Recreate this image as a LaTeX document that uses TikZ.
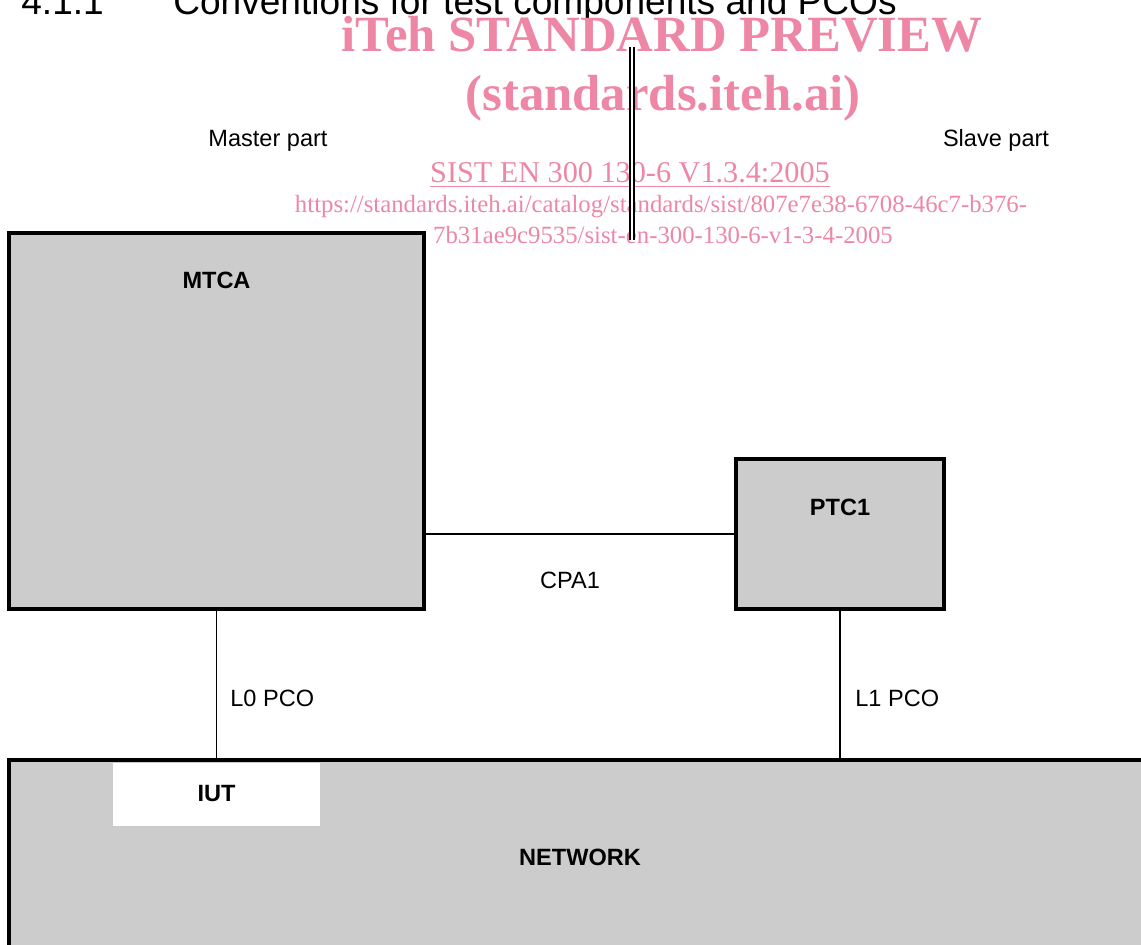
\documentclass[tikz,border=0pt]{standalone}
\usepackage{fontspec}
\setmainfont{Liberation Sans}
\newfontfamily\wmfont{Liberation Serif}
\definecolor{boxgray}{RGB}{204,204,204}
\definecolor{wmpink}{RGB}{238,135,165}
\tikzset{
  unitbox/.style={draw, line width=2.3pt, fill=boxgray, inner sep=0pt, outer sep=0pt},
  tag/.style={font=\fontsize{13.4}{16}\selectfont\bfseries, anchor=base, inner sep=0pt},
  note/.style={font=\fontsize{13.4}{16}\selectfont, anchor=base, inner sep=0pt},
  pco/.style={line width=0.9pt},
  watermark/.style={text=wmpink, anchor=base, inner sep=0pt},
}
\begin{document}
\begin{tikzpicture}[x=0.02cm, y=-0.02cm]
  \useasboundingbox (0,0) rectangle (1141,945);
  \clip (0,0) rectangle (1141,945);
  % Heading (cut at the top)
  \node[anchor=base west, inner sep=0pt, font=\fontsize{21.1}{25}\selectfont] (secnum) at (21,15) {4.1.1};
  \node[anchor=base west, inner sep=0pt, font=\fontsize{21.1}{25}\selectfont] (sectitle) at (173,15) {Conventions for test components and PCOs};
  % Watermark
  \node[watermark, font=\wmfont\fontsize{28.9}{34}\selectfont\bfseries] (wm1) at (662,52) {iTeh STANDARD PREVIEW};
  \node[watermark, font=\wmfont\fontsize{28.9}{34}\selectfont\bfseries] (wm2) at (663,111) {(standards.iteh.ai)};
  \node[watermark, font=\wmfont\fontsize{17.2}{20}\selectfont] (wm3) at (630,183) {\underline{SIST EN 300 130-6 V1.3.4:2005}};
  \node[watermark, font=\wmfont\fontsize{14.1}{17}\selectfont] (wm4) at (661,213) {https://standards.iteh.ai/catalog/standards/sist/807e7e38-6708-46c7-b376-};
  \node[watermark, font=\wmfont\fontsize{14.1}{17}\selectfont] (wm5) at (663,244) {7b31ae9c9535/sist-en-300-130-6-v1-3-4-2005};
  % Master / slave split
  \coordinate (split top) at (632,47);
  \coordinate (split bot) at (632,240);
  \draw[double, line width=0.85pt, double distance=1.4pt] (split top) -- (split bot);
  \node[note] (master) at (268,146.5) {Master part};
  \node[note] (slave) at (996,146.5) {Slave part};
  % Test components
  \node[unitbox, minimum width=8.3cm, minimum height=7.52cm] (mtca) at (216.5,421) {};
  \node[tag] (mtca label) at (216.5,288.5) {MTCA};
  \node[unitbox, minimum width=4.16cm, minimum height=3cm] (ptc1) at (840,534) {};
  \node[tag] (ptc1 label) at (840,515.5) {PTC1};
  % Network and IUT
  \node[unitbox, minimum width=23.42cm, minimum height=4.6cm] (network) at (594.5,875) {};
  \node[fill=white, inner sep=0pt, minimum width=4.14cm, minimum height=1.26cm,
        font=\fontsize{13.4}{16}\selectfont\bfseries] (iut) at (216.5,794) {IUT};
  \node[tag] (network label) at (580,865.5) {NETWORK};
  % Coordination point and PCOs
  \draw[pco] (mtca.east |- ptc1.west) -- (ptc1.west);
  \node[note] (cpa1) at (570,588.5) {CPA1};
  \draw[pco] (mtca.south) -- (mtca.south |- network.north);
  \node[note, anchor=base west] (l0) at (230,706.5) {L0 PCO};
  \draw[pco] (ptc1.south) -- (ptc1.south |- network.north);
  \node[note, anchor=base west] (l1) at (855,706.5) {L1 PCO};
\end{tikzpicture}
\end{document}
